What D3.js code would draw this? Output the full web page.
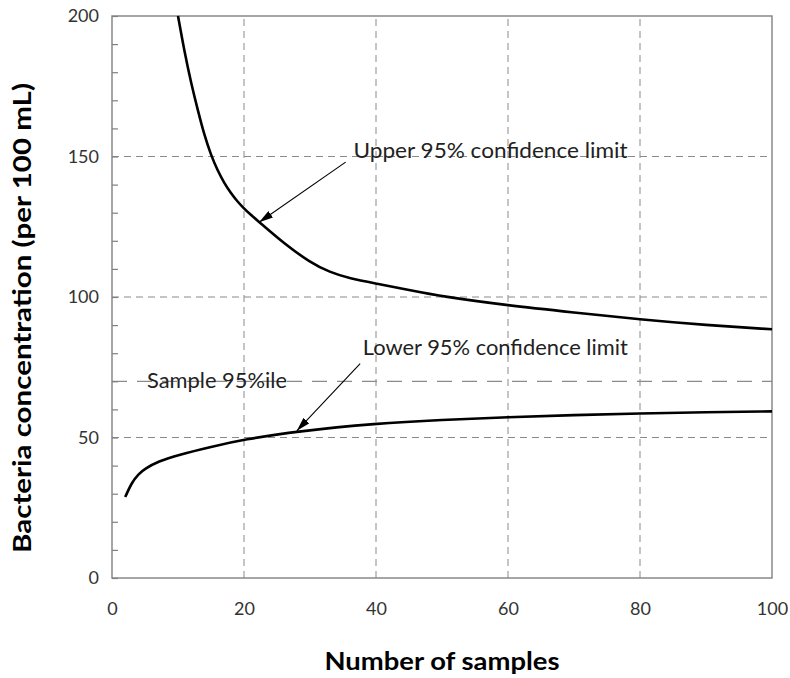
<!DOCTYPE html>
<html>
<head>
<meta charset="utf-8">
<script src="https://cdn.jsdelivr.net/npm/d3@7"></script>
<style>
  body { margin: 0; background: #fff; }
  text { font-family: Lato, "Open Sans", sans-serif; }
</style>
</head>
<body>
<script>
// values
var upperN = [10, 11, 12, 13, 14, 15, 16, 17, 18, 19, 20, 21, 22.5, 26, 30, 33, 36, 40, 45, 50, 60, 70, 80, 90, 100];
var upperY = [200, 187, 176, 166.5, 157.5, 150.5, 145, 140.6, 137, 134, 131.5, 129.3, 126.3, 119.2, 112.3, 108.8, 106.6, 104.8, 102.5, 100.2, 97, 94.5, 92, 90, 88.5];

var lowerN = [2, 3, 4, 5, 7, 10, 15, 20, 28, 40, 50, 60, 70, 80, 90, 100];
var lowerY = [28.8, 34, 37, 38.9, 41.5, 43.8, 46.7, 49.3, 52.2, 55, 56.3, 57.2, 58, 58.6, 59, 59.3];

var samplePercentile = 70;

var xTicks = [0, 20, 40, 60, 80, 100];
var yLabelTicks = [0, 50, 100, 150, 200];
var yMinorTicks = d3.range(0, 201, 10);

var xGrid = [20, 40, 60, 80];
var yGrid = [50, 100, 150];

var labels = ['Upper 95% confidence limit', 'Lower 95% confidence limit', 'Sample 95%ile'];

var W = 790, H = 678;
var plotLeft = 112, plotTop = 16, plotRight = 772, plotBottom = 578;

var svg = d3.select('body').append('svg')
    .attr('width', W)
    .attr('height', H)

var x = d3.scaleLinear().domain([0, 100]).range([plotLeft, plotRight]);
var y = d3.scaleLinear().domain([0, 200]).range([plotBottom, plotTop]);

// grid
svg.append('g').selectAll('line')
    .data(xGrid)
    .enter().append('line')
    .attr('x1', function (d) { return x(d) })
    .attr('x2', function (d) { return x(d) })
    .attr('y1', y(0))
    .attr('y2', y(200))
    .attr('stroke', '#8a8a8a')
    .attr('stroke-width', 1)
    .attr('stroke-dasharray', '7,5')

svg.append('g').selectAll('line')
    .data(yGrid)
    .enter().append('line')
    .attr('x1', x(0))
    .attr('x2', x(100))
    .attr('y1', function (d) { return y(d) })
    .attr('y2', function (d) { return y(d) })
    .attr('stroke', '#8a8a8a')
    .attr('stroke-width', 1)
    .attr('stroke-dasharray', '7,5')

// sample 95%ile line
svg.append('line')
    .attr('x1', x(0))
    .attr('x2', x(100))
    .attr('y1', y(samplePercentile))
    .attr('y2', y(samplePercentile))
    .attr('stroke', '#8a8a8a')
    .attr('stroke-width', 1.2)
    .attr('stroke-dasharray', '15,10')

// frame
svg.append('rect')
    .attr('x', plotLeft)
    .attr('y', plotTop)
    .attr('width', plotRight - plotLeft)
    .attr('height', plotBottom - plotTop)
    .attr('fill', 'none')
    .attr('stroke', '#808080')
    .attr('stroke-width', 1.4)

// axes
var yAxis = svg.append('g')
    .attr('transform', 'translate(' + plotLeft + ',0)')
    .call(d3.axisLeft(y)
        .tickValues(yMinorTicks)
        .tickSize(-6)
        .tickPadding(13)
        .tickFormat(function (d) { return yLabelTicks.indexOf(d) >= 0 ? d : '' }))
yAxis.select('.domain').remove()
yAxis.selectAll('line').attr('stroke', '#808080').attr('stroke-width', 1.2)
yAxis.selectAll('text')
    .attr('font-size', 18)
    .attr('fill', '#333')
    .style('font-family', 'Lato, sans-serif')

var xAxis = svg.append('g')
    .attr('transform', 'translate(0,' + plotBottom + ')')
    .call(d3.axisBottom(x).tickValues(xTicks).tickSize(0).tickPadding(24))
xAxis.select('.domain').remove()
xAxis.selectAll('text')
    .attr('font-size', 18)
    .attr('fill', '#333')
    .style('font-family', 'Lato, sans-serif')

// curves
var line = d3.line()
    .x(function (d) { return x(d[0]) })
    .y(function (d) { return y(d[1]) })
    .curve(d3.curveBasis)

svg.append('path')
    .datum(d3.zip(upperN, upperY))
    .attr('d', line)
    .attr('fill', 'none')
    .attr('stroke', '#000')
    .attr('stroke-width', 2.6)

svg.append('path')
    .datum(d3.zip(lowerN, lowerY))
    .attr('d', line)
    .attr('fill', 'none')
    .attr('stroke', '#000')
    .attr('stroke-width', 2.6)

// arrows
svg.append('defs').append('marker')
    .attr('id', 'head')
    .attr('viewBox', '0 0 14 8')
    .attr('refX', 14)
    .attr('refY', 4)
    .attr('markerWidth', 14)
    .attr('markerHeight', 8)
    .attr('markerUnits', 'userSpaceOnUse')
    .attr('orient', 'auto')
    .append('path')
    .attr('d', 'M0,0 L14,4 L0,8 Z')
    .attr('fill', '#000')

var arrows = [
    { from: [35.4, 148], to: [22.3, 126.6] },
    { from: [37.6, 76.3], to: [28.0, 52.4] }
];

svg.append('g').selectAll('line')
    .data(arrows)
    .enter().append('line')
    .attr('x1', function (d) { return x(d.from[0]) })
    .attr('y1', function (d) { return y(d.from[1]) })
    .attr('x2', function (d) { return x(d.to[0]) })
    .attr('y2', function (d) { return y(d.to[1]) })
    .attr('stroke', '#000')
    .attr('stroke-width', 1.1)
    .attr('marker-end', 'url(#head)')

// annotation labels
var labelPos = [
    { at: [36.6, 149.4], len: 274 },
    { at: [38.0, 79.2], len: 265 },
    { at: [5.3, 67.5], len: 140 }
];

svg.append('g').selectAll('text')
    .data(labels)
    .enter().append('text')
    .attr('x', function (d, i) { return x(labelPos[i].at[0]) })
    .attr('y', function (d, i) { return y(labelPos[i].at[1]) })
    .attr('font-size', 21)
    .attr('fill', '#222')
    .attr('textLength', function (d, i) { return labelPos[i].len })
    .attr('lengthAdjust', 'spacingAndGlyphs')
    .text(function (d) { return d })

// axis titles
svg.append('text')
    .attr('x', (plotLeft + plotRight) / 2)
    .attr('y', 670)
    .attr('text-anchor', 'middle')
    .attr('font-size', 24)
    .attr('font-weight', 'bold')
    .attr('textLength', 235)
    .attr('lengthAdjust', 'spacingAndGlyphs')
    .text('Number of samples')

svg.append('text')
    .attr('transform', 'translate(31,318) rotate(-90)')
    .attr('text-anchor', 'middle')
    .attr('font-size', 24)
    .attr('font-weight', 'bold')
    .attr('textLength', 470)
    .attr('lengthAdjust', 'spacingAndGlyphs')
    .text('Bacteria concentration (per 100 mL)')
</script>
</body>
</html>
